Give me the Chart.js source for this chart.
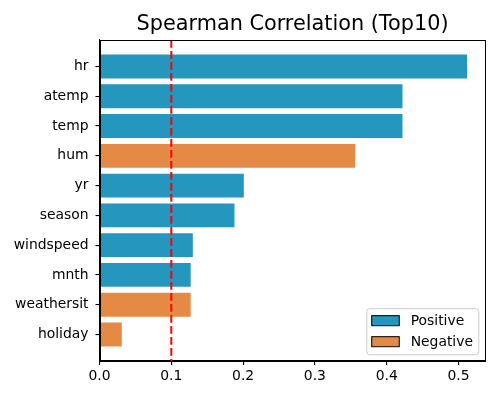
<!DOCTYPE html>
<html>
<head>
<meta charset="utf-8">
<script src="https://cdn.jsdelivr.net/npm/chart.js@4/dist/chart.umd.min.js"></script>
<style>
  html, body { margin: 0; padding: 0; background: #fff; }
  #wrap { width: 500px; height: 400px; }
</style>
</head>
<body>
<div id="wrap"><canvas id="chart" width="500" height="400"></canvas></div>
<script>
// values (signed Spearman correlation, bars show |r|)
const features = ["hr", "atemp", "temp", "hum", "yr", "season", "windspeed", "mnth", "weathersit", "holiday"]
const correlations = [0.512, 0.422, 0.422, -0.356, 0.201, 0.188, 0.130, 0.127, -0.127, -0.031]
const xTicks = [0.0, 0.1, 0.2, 0.3, 0.4, 0.5]
const threshold = 0.1
const legendLabels = ["Positive", "Negative"]

const BLUE = "#2596be"
const ORANGE = "#e48a44"
const FONT = "'DejaVu Sans', sans-serif"

Chart.defaults.color = "#000"
Chart.defaults.font.family = FONT

const absValues = correlations.map(v => Math.abs(v))
const barColors = correlations.map(v => (v >= 0 ? BLUE : ORANGE))
const xMax = Math.max(...absValues) * 1.05

// axes frame (all four spines)
const framePlugin = {
  id: "frame",
  afterDraw(chart) {
    const { ctx, chartArea: a } = chart
    ctx.save()
    ctx.strokeStyle = "#000"
    ctx.lineWidth = 1
    ctx.strokeRect(Math.round(a.left) + 0.5, Math.round(a.top) + 0.5,
      Math.round(a.right - a.left) - 1, Math.round(a.bottom - a.top))
    ctx.restore()
  }
}

// red dashed threshold line
const thresholdPlugin = {
  id: "threshold",
  afterDatasetsDraw(chart) {
    const { ctx, chartArea: a, scales } = chart
    const x = scales.x.getPixelForValue(threshold)
    ctx.save()
    ctx.strokeStyle = "#ff0000"
    ctx.lineWidth = 2
    ctx.setLineDash([7.7, 3.3])
    ctx.beginPath()
    ctx.moveTo(x, a.top)
    ctx.lineTo(x, a.bottom)
    ctx.stroke()
    ctx.restore()
  }
}

// matplotlib-style legend box in lower right of the axes
const legendBoxPlugin = {
  id: "legendBox",
  afterDraw(chart) {
    const { ctx, chartArea: a } = chart
    const colors = [BLUE, ORANGE]
    ctx.save()
    ctx.font = "13.9px " + FONT
    const textW = Math.max(...legendLabels.map(t => ctx.measureText(t).width))
    const w = 4.7 + 28 + 11.5 + textW + 5.5
    const h = 46
    const right = a.right - 7.2
    const bottom = a.bottom - 6.8
    const left = right - w
    const top = bottom - h

    ctx.beginPath()
    ctx.roundRect(left + 0.5, top + 0.5, w, h, 3)
    ctx.fillStyle = "rgba(255,255,255,0.8)"
    ctx.fill()
    ctx.strokeStyle = "#cccccc"
    ctx.lineWidth = 1
    ctx.stroke()

    legendLabels.forEach((label, i) => {
      const cy = top + 12 + i * 21
      ctx.fillStyle = colors[i]
      ctx.fillRect(left + 5, cy - 5, 28, 10)
      ctx.strokeStyle = "#000"
      ctx.strokeRect(left + 5.5, cy - 4.5, 27.5, 10)
      ctx.fillStyle = "#000"
      ctx.textBaseline = "middle"
      ctx.textAlign = "left"
      ctx.fillText(label, left + 44.4, cy + 1)
    })
    ctx.restore()
  }
}

new Chart(document.getElementById("chart"), {
  type: "bar",
  data: {
    datasets: [{
      data: absValues.map((v, i) => ({ x: v, y: i })),
      backgroundColor: barColors,
      borderWidth: 0,
      categoryPercentage: 1,
      barPercentage: 0.8
    }]
  },
  options: {
    indexAxis: "y",
    responsive: false,
    devicePixelRatio: 1,
    animation: false,
    layout: { padding: { left: 0, right: 14.5, top: 0, bottom: 0 } },
    plugins: {
      legend: { display: false },
      tooltip: { enabled: false },
      title: {
        display: true,
        text: "Spearman Correlation (Top10)",
        fullSize: false,
        color: "#000",
        font: { size: 20.8, weight: "normal", family: FONT, lineHeight: 1.2 },
        padding: { top: 12, bottom: 3 }
      }
    },
    scales: {
      x: {
        type: "linear",
        min: 0,
        max: xMax,
        bounds: "data",
        afterBuildTicks(scale) {
          scale.ticks = xTicks.map(v => ({ value: v }))
        },
        afterFit(scale) { scale.height = 39 },
        ticks: {
          callback: v => Number(v).toFixed(1),
          font: { size: 13.9 },
          color: "#000",
          padding: 3,
          maxRotation: 0
        },
        grid: { drawOnChartArea: false, drawTicks: true, tickLength: 4, color: "#000", lineWidth: 1.1 },
        border: { display: true, color: "#000", width: 1 }
      },
      y: {
        type: "linear",
        reverse: true,
        offset: false,
        bounds: "data",
        min: -0.89,
        max: 9.89,
        afterBuildTicks(scale) {
          scale.ticks = features.map((f, i) => ({ value: i }))
        },
        afterFit(scale) { scale.width = 99.5 },
        ticks: {
          callback: v => features[v],
          font: { size: 13.9 },
          color: "#000",
          padding: 7,
          autoSkip: false
        },
        grid: { offset: false, drawOnChartArea: false, drawTicks: true, tickLength: 4, color: "#000", lineWidth: 1.1 },
        border: { display: true, color: "#000", width: 1 }
      }
    }
  },
  plugins: [thresholdPlugin, framePlugin, legendBoxPlugin]
})
</script>
</body>
</html>
